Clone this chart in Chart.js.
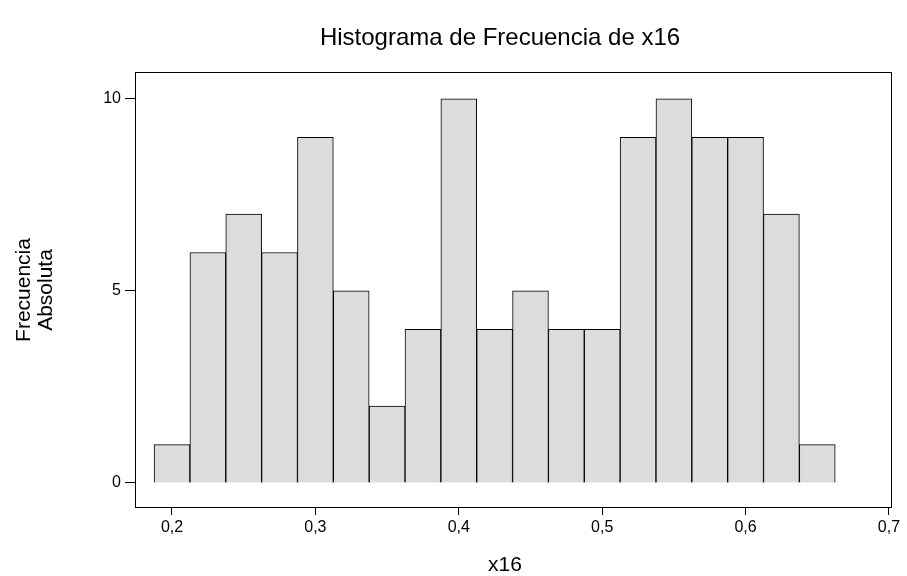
<!DOCTYPE html>
<html><head><meta charset="utf-8">
<script src="https://cdn.jsdelivr.net/npm/chart.js@4"></script>
<style>html,body{margin:0;background:#fff}#wrap{width:907px;height:576px}</style>
</head><body><div id="wrap"><canvas id="c"></canvas></div>
<script>
const binCenters = [0.2, 0.225, 0.25, 0.275, 0.3, 0.325, 0.35, 0.375, 0.4, 0.425, 0.45, 0.475, 0.5, 0.525, 0.55, 0.575, 0.6, 0.625, 0.65];
const counts = [1, 6, 7, 6, 9, 5, 2, 4, 10, 4, 5, 4, 4, 9, 10, 9, 9, 7, 1];
const xTicks = [0.2, 0.3, 0.4, 0.5, 0.6, 0.7];
const yTicks = [0, 5, 10];

const font = "Arial, 'Liberation Sans', sans-serif";

// frame + titles
const decor = {
  id: "decor",
  afterDraw(chart) {
    const { ctx, chartArea: a } = chart;
    ctx.save();
    ctx.strokeStyle = "#000";
    ctx.lineWidth = 1;
    ctx.strokeRect(a.left + 0.5, a.top + 0.5, a.right - a.left, a.bottom - a.top);
    ctx.fillStyle = "#000";
    ctx.textAlign = "center";
    ctx.textBaseline = "middle";
    ctx.font = "24px " + font;
    ctx.fillText("Histograma de Frecuencia de x16", 500, 38);
    ctx.font = "21px " + font;
    ctx.fillText("x16", 505, 565);
    ctx.translate(34, 290);
    ctx.rotate(-Math.PI / 2);
    ctx.fillText("Frecuencia", 0, -10);
    ctx.fillText("Absoluta", 0, 12);
    ctx.restore();
  }
};

new Chart(document.getElementById("c"), {
  type: "bar",
  data: {
    datasets: [{
      data: binCenters.map((x, i) => ({ x: x, y: counts[i] })),
      backgroundColor: "#dcdcdc",
      borderColor: "#000",
      borderWidth: 1,
      barPercentage: 1,
      categoryPercentage: 1
    }]
  },
  options: {
    responsive: true,
    maintainAspectRatio: false,
    animation: false,
    layout: { padding: { top: 72, right: 16, left: 0, bottom: 0 } },
    plugins: { legend: { display: false }, tooltip: { enabled: false } },
    scales: {
      x: {
        type: "linear",
        min: 0.1742, max: 0.7014,
        offset: false,
        afterBuildTicks: s => { s.ticks = xTicks.map(v => ({ value: v })); },
        afterFit: s => { s.height = 69; },
        grid: { offset: false, drawOnChartArea: false, tickLength: 8, color: "#000" },
        border: { display: false },
        ticks: { color: "#000", font: { size: 16, family: font }, padding: 3,
          callback: v => String(v).replace(".", ",") }
      },
      y: {
        min: -0.625, max: 10.7,
        afterBuildTicks: s => { s.ticks = yTicks.map(v => ({ value: v })); },
        afterFit: s => { s.width = 135; },
        grid: { drawOnChartArea: false, tickLength: 10, color: "#000" },
        border: { display: false },
        ticks: { color: "#000", font: { size: 16, family: font }, padding: 4 }
      }
    }
  },
  plugins: [decor]
});
</script></body></html>
